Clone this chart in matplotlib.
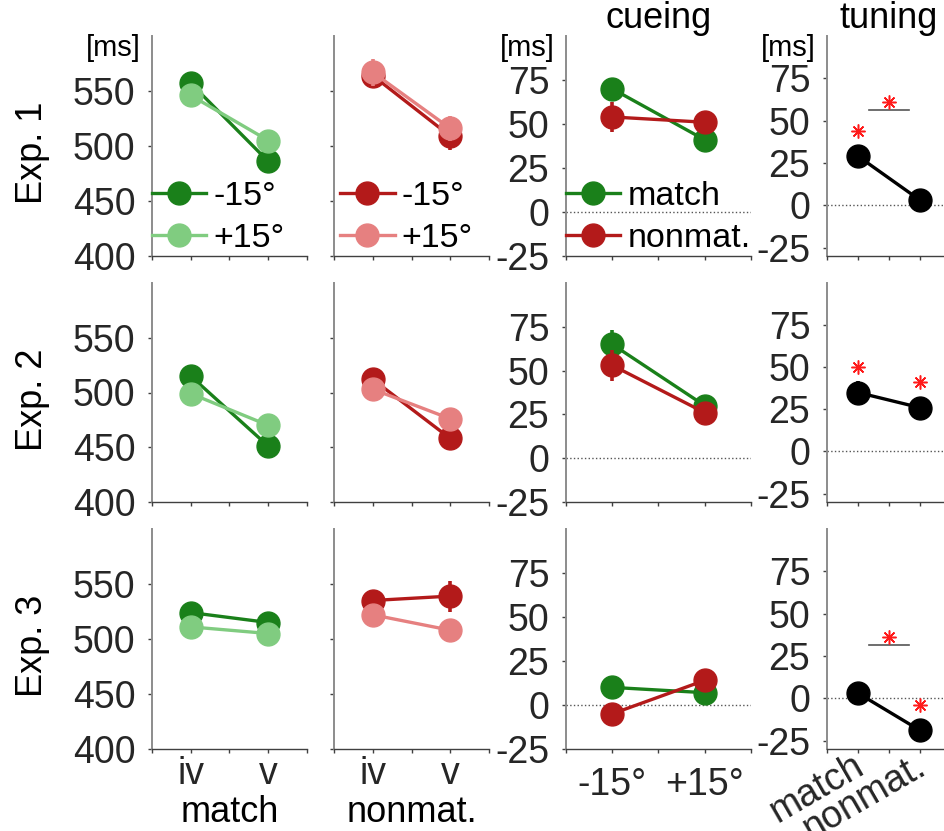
import matplotlib
matplotlib.use('Agg')
import matplotlib.pyplot as plt
import matplotlib.transforms as mtransforms

plt.rcParams['font.family'] = ['Liberation Sans', 'DejaVu Sans']
plt.rcParams['axes.unicode_minus'] = False

exp_labels = ['Exp. 1', 'Exp. 2', 'Exp. 3']
pos_labels = ['iv', 'v']
orient_labels = ['-15°', '+15°']
cue_labels = ['match', 'nonmat.']

# RT [ms] at positions iv, v (one row per experiment)
match_m15 = [[557, 486], [515, 451], [524, 515]]
match_m15_err = [[5, 5], [3, 3], [3, 7]]
match_p15 = [[546, 505], [499, 470], [511, 505]]
match_p15_err = [[5, 9], [3, 3], [3, 8]]
nonmat_m15 = [[564, 509], [512, 458], [535, 539]]
nonmat_m15_err = [[6, 13], [5, 4], [7, 14]]
nonmat_p15 = [[567, 516], [503, 476], [522, 508]]
nonmat_p15_err = [[12, 11], [4, 4], [8, 10]]

# cueing effect [ms] at -15°, +15°
cue_match = [[70, 41], [65, 30], [10, 7]]
cue_match_err = [[5, 6], [8, 3], [3, 3]]
cue_nonmat = [[54, 51], [53, 26], [-5, 14]]
cue_nonmat_err = [[8.5, 4], [9, 3], [3, 3]]

# tuning [ms] for match, nonmat.
tuning = [[29, 3], [35, 26], [3, -19]]
tuning_err = [[4, 3], [7, 3], [3, 3]]

# significance marks in the tuning panels
star_x = [[1, 1.5], [1, 2], [1.5, 2]]
star_y = [[44, 61], [50, 41], [36, -4]]
bar_y = [56, None, 31.5]

GREEN_D = '#1a801a'
GREEN_L = '#80cc80'
RED_D = '#b31a1a'
RED_L = '#e68080'
TXT = '#262626'
TICK_FS = 27
LAB_FS = 26
LEG_FS = 24.5

W, H = 944, 831
fig = plt.figure(figsize=(W / 100, H / 100), dpi=100)

col_x = [(152, 307), (334, 489), (566, 751), (827, 951)]
row_y = [(36, 256), (283, 502), (529, 749)]
xs = [1, 2]


def add_ax(r, c):
    x0, x1 = col_x[c]
    y0, y1 = row_y[r]
    return fig.add_axes([x0 / W, 1 - y1 / H, (x1 - x0) / W, (y1 - y0) / H])


def style(ax, ylim, yticks, ylabels=True):
    ax.set_xlim(0.5, 2.5)
    ax.set_xticks([0.5, 1, 1.5, 2, 2.5])
    ax.set_xticklabels([])
    ax.set_ylim(*ylim)
    ax.set_yticks(yticks)
    if not ylabels:
        ax.set_yticklabels([])
    for s in ['top', 'right']:
        ax.spines[s].set_visible(False)
    ax.spines['left'].set_color('#8c8c8c')
    ax.spines['left'].set_linewidth(1.4)
    ax.spines['bottom'].set_color('#404040')
    ax.spines['bottom'].set_linewidth(1.0)
    ax.tick_params(direction='out', length=3, width=1, colors='#404040',
                   labelcolor=TXT, labelsize=TICK_FS)
    ax.tick_params(axis='y', pad=9)
    ax.tick_params(axis='x', pad=2)


def series(ax, y, err, color, label):
    ax.errorbar(xs, y, yerr=err, fmt='none', ecolor=color, elinewidth=2.6, capsize=0)
    line, = ax.plot(xs, y, '-o', color=color, lw=2.4, ms=16.5, label=label)
    return line


def legend(ax, handles, x0):
    ax.legend(handles=handles, loc='lower left', bbox_to_anchor=(x0, 0.01),
              frameon=False, fontsize=LEG_FS, borderpad=0, borderaxespad=0,
              handlelength=1.6, handletextpad=0.2, labelspacing=0.32)


def ms_label(ax):
    ax.annotate('[ms]', xy=(0, 1), xycoords='axes fraction', xytext=(-8, -9),
                textcoords='offset points', ha='right', va='center', fontsize=21)


for r in range(3):
    # match RTs
    ax = add_ax(r, 0)
    style(ax, (400, 600), [400, 450, 500, 550])
    h1 = series(ax, match_m15[r], match_m15_err[r], GREEN_D, orient_labels[0])
    h2 = series(ax, match_p15[r], match_p15_err[r], GREEN_L, orient_labels[1])
    if r == 0:
        ms_label(ax)
        legend(ax, [h1, h2], 0)
    if r == 2:
        ax.set_xticklabels(['', pos_labels[0], '', pos_labels[1], ''])
        ax.set_xlabel(cue_labels[0], fontsize=LAB_FS, labelpad=2)
    yc = (row_y[r][0] + row_y[r][1]) / 2 + 7
    fig.text(32 / W, 1 - yc / H, exp_labels[r], rotation=90, ha='center',
             va='center', fontsize=LAB_FS)

    # nonmatch RTs
    ax = add_ax(r, 1)
    style(ax, (400, 600), [400, 450, 500, 550], ylabels=False)
    h1 = series(ax, nonmat_m15[r], nonmat_m15_err[r], RED_D, orient_labels[0])
    h2 = series(ax, nonmat_p15[r], nonmat_p15_err[r], RED_L, orient_labels[1])
    if r == 0:
        legend(ax, [h1, h2], 0.04)
    if r == 2:
        ax.set_xticklabels(['', pos_labels[0], '', pos_labels[1], ''])
        ax.set_xlabel(cue_labels[1], fontsize=LAB_FS, labelpad=2)

    # cueing
    ax = add_ax(r, 2)
    style(ax, (-25, 100), [-25, 0, 25, 50, 75])
    ax.axhline(0, color='#555555', ls=':', lw=1.0, zorder=0)
    h1 = series(ax, cue_match[r], cue_match_err[r], GREEN_D, cue_labels[0])
    h2 = series(ax, cue_nonmat[r], cue_nonmat_err[r], RED_D, cue_labels[1])
    if r == 0:
        ms_label(ax)
        ax.set_title('cueing', fontsize=LAB_FS, pad=2)
        legend(ax, [h1, h2], 0)
    if r == 2:
        ax.set_xticklabels(['', orient_labels[0], '', orient_labels[1], ''])
        ax.tick_params(axis='x', pad=10)

    # tuning
    ax = add_ax(r, 3)
    style(ax, (-30, 100), [-25, 0, 25, 50, 75])
    ax.axhline(0, color='#555555', ls=':', lw=1.0, zorder=0)
    series(ax, tuning[r], tuning_err[r], 'black', None)
    if bar_y[r] is not None:
        ax.plot([1.17, 1.83], [bar_y[r], bar_y[r]], color='#555555', lw=1.2)
    ax.plot(star_x[r], star_y[r], ls='none', marker=(8, 2, 0), ms=10,
            mew=1.1, color='#ff1a1a')
    if r == 0:
        ms_label(ax)
        ax.set_title('tuning', fontsize=LAB_FS, pad=2)
    if r == 2:
        ax.set_xticklabels(['', cue_labels[0], '', cue_labels[1], ''])
        shift = mtransforms.ScaledTranslation(-6 / 100, 8 / 100, fig.dpi_scale_trans)
        for lab in ax.get_xticklabels():
            lab.set_rotation(30)
            lab.set_ha('right')
            lab.set_va('top')
            lab.set_rotation_mode('anchor')
            lab.set_transform(lab.get_transform() + shift)

fig.savefig('out.png', dpi=100)
